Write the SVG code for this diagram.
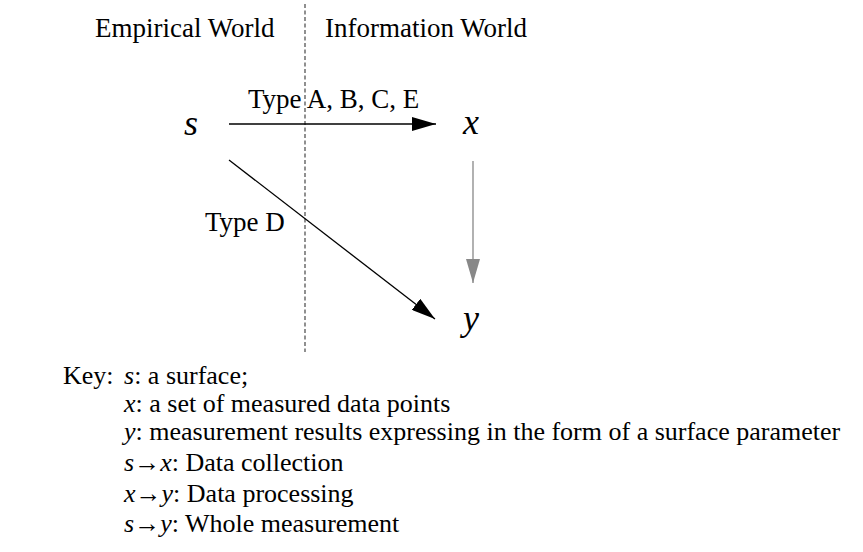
<svg xmlns="http://www.w3.org/2000/svg" width="863" height="552" viewBox="0 0 863 552" font-family="'Liberation Serif', Tinos, 'Times New Roman', 'DejaVu Serif', serif">
  <defs>
    <style>
      text { font-family: 'Liberation Serif', Tinos, 'Times New Roman', 'DejaVu Serif', serif; font-size: 26px; fill: #000; }
      .label { font-size: 27px; }
      .var { font-style: italic; font-size: 36px; }
      .it { font-style: italic; }
      .conn { fill: none; stroke: #000; stroke-width: 1.3; }
      .gray { stroke: #888; }
      .divider { fill: none; stroke: #555; stroke-width: 1.3; stroke-dasharray: 4 2.5; }
    </style>
    <marker id="head" viewBox="0 0 24 14" refX="24" refY="7" markerWidth="24" markerHeight="14" markerUnits="userSpaceOnUse" orient="auto">
      <path d="M0,0 L24,7 L0,14 Z" fill="#000"/>
    </marker>
    <marker id="head-gray" viewBox="0 0 24 14" refX="24" refY="7" markerWidth="24" markerHeight="14" markerUnits="userSpaceOnUse" orient="auto">
      <path d="M0,0 L24,7 L0,14 Z" fill="#888"/>
    </marker>
  </defs>
  <rect width="863" height="552" fill="#fff"/>

  <!-- boundary between the two worlds -->
  <g id="divider">
    <line class="divider" x1="305" y1="4" x2="305" y2="352"/>
    <text class="label" x="95" y="37">Empirical World</text>
    <text class="label" x="325" y="37">Information World</text>
  </g>

  <g id="connectors">
    <line class="conn" x1="229" y1="124" x2="436" y2="124" marker-end="url(#head)"/>
    <text class="label" x="248" y="108">Type A, B, C, E</text>
    <line class="conn" x1="229" y1="160" x2="435" y2="319" marker-end="url(#head)"/>
    <text class="label" x="205" y="231">Type D</text>
    <line class="conn gray" x1="473" y1="161" x2="473" y2="283" marker-end="url(#head-gray)"/>
  </g>

  <g id="node-s"><text class="var" x="184" y="135">s</text></g>
  <g id="node-x"><text class="var" x="463" y="134">x</text></g>
  <g id="node-y"><text class="var" x="463" y="330">y</text></g>

  <!-- legend -->
  <g id="key">
    <text x="63" y="384">Key:</text>
    <text x="124" y="384"><tspan class="it">s</tspan>: a surface;</text>
    <text x="124" y="412"><tspan class="it">x</tspan>: a set of measured data points</text>
    <text x="124" y="440"><tspan class="it">y</tspan>: measurement results expressing in the form of a surface parameter</text>
    <text x="124" y="471"><tspan class="it">s</tspan>→<tspan class="it">x</tspan>: Data collection</text>
    <text x="124" y="502"><tspan class="it">x</tspan>→<tspan class="it">y</tspan>: Data processing</text>
    <text x="124" y="532"><tspan class="it">s</tspan>→<tspan class="it">y</tspan>: Whole measurement</text>
  </g>
</svg>
